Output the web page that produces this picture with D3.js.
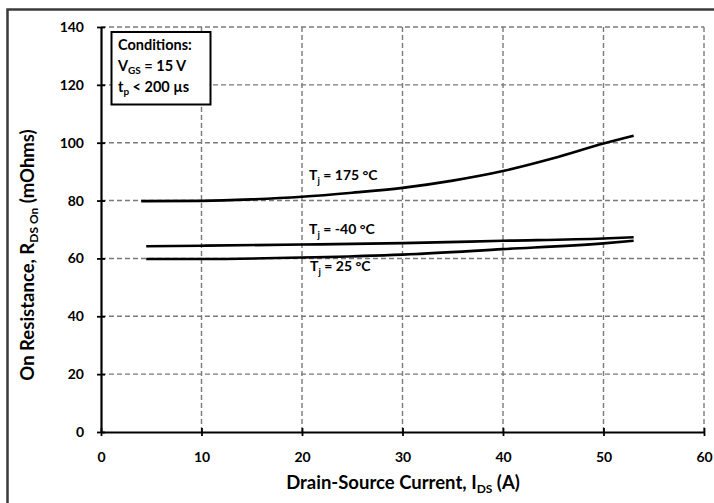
<!DOCTYPE html>
<html>
<head>
<meta charset="utf-8">
<script src="https://cdn.jsdelivr.net/npm/d3@7"></script>
<style>
  body { margin: 0; background: #fff; }
  svg { display: block; font-family: Lato, "Open Sans", sans-serif; font-weight: bold; }
</style>
</head>
<body>
<div id="chart"></div>
<script>
// Data (I_DS in A, R_DS(on) in mOhm)
const xTicks = [0, 10, 20, 30, 40, 50, 60];
const yTicks = [0, 20, 40, 60, 80, 100, 120, 140];

const curve175 = [[4, 79.8], [10, 79.9], [15, 80.4], [20, 81.3], [25, 82.7], [30, 84.4], [35, 86.9], [40, 90.2], [45, 94.6], [50, 99.7], [53, 102.4]];
const curveM40 = [[4.5, 64.2], [10, 64.4], [20, 64.8], [30, 65.3], [40, 66.1], [50, 66.9], [53, 67.3]];
const curve25 = [[4.5, 59.8], [10, 59.8], [20, 60.3], [30, 61.3], [40, 63.2], [50, 65.2], [53, 66.1]];

const curveLabels = [
  { temp: '175 °C', x: 20.7, y: 87.0 },
  { temp: '-40 °C', x: 20.7, y: 68.6 },
  { temp: '25 °C', x: 20.8, y: 55.5 },
];

const W = 714, H = 503;
const margin = { left: 101, right: 11, top: 27, bottom: 71 };

const svg = d3.select('#chart').append('svg')
  .attr('width', W)
  .attr('height', H);

// outer frame
svg.append('rect')
  .attr('x', 7.5).attr('y', 9.5)
  .attr('width', 730).attr('height', 520)
  .attr('fill', 'none')
  .attr('stroke', '#3a3a3a')
  .attr('stroke-width', 2.5);

const x = d3.scaleLinear().domain([0, 60]).range([margin.left, W - margin.right + 1]);
const y = d3.scaleLinear().domain([0, 140]).range([H - margin.bottom, margin.top]);

// Grid
const grid = svg.append('g')
  .attr('stroke', '#7a7a7a')
  .attr('stroke-width', 1.4)
  .attr('stroke-dasharray', '5,3');
grid.selectAll('line.v')
  .data(xTicks.filter(d => d > 0))
  .join('line')
  .attr('x1', d => x(d)).attr('x2', d => x(d))
  .attr('y1', y(0)).attr('y2', y(140));
grid.selectAll('line.h')
  .data(yTicks.filter(d => d > 0))
  .join('line')
  .attr('x1', x(0)).attr('x2', x(60))
  .attr('y1', d => y(d)).attr('y2', d => y(d));

// Axes
const xAxis = d3.axisBottom(x).tickValues(xTicks).tickSizeInner(4).tickSizeOuter(0).tickPadding(16);
const gx = svg.append('g').attr('transform', `translate(0,${y(0)})`).call(xAxis);
gx.select('.domain').attr('stroke', '#000').attr('stroke-width', 2.2);
gx.selectAll('.tick line').attr('stroke', '#000').attr('stroke-width', 1.8).attr('y1', -4);
gx.selectAll('.tick text')
  .attr('font-family', 'Lato, sans-serif').attr('font-weight', 'bold')
  .attr('font-size', 14).attr('fill', '#000');

const yAxis = d3.axisLeft(y).tickValues(yTicks).tickSizeInner(4).tickSizeOuter(0).tickPadding(13);
const gy = svg.append('g').attr('transform', `translate(${x(0)},0)`).call(yAxis);
gy.select('.domain').attr('stroke', '#000').attr('stroke-width', 2.2);
gy.selectAll('.tick line').attr('stroke', '#000').attr('stroke-width', 1.8).attr('x1', 4);
gy.selectAll('.tick text')
  .attr('font-family', 'Lato, sans-serif').attr('font-weight', 'bold')
  .attr('font-size', 14).attr('fill', '#000');

// Curves
const line = d3.line()
  .x(d => x(d[0]))
  .y(d => y(d[1]))
  .curve(d3.curveMonotoneX);

svg.append('g')
  .selectAll('path')
  .data([curve175, curveM40, curve25])
  .join('path')
  .attr('d', line)
  .attr('fill', 'none')
  .attr('stroke', '#000')
  .attr('stroke-width', 2.6);

// Curve labels: T_j = ...
const lbl = svg.append('g')
  .selectAll('text')
  .data(curveLabels)
  .join('text')
  .attr('x', d => x(d.x))
  .attr('y', d => y(d.y))
  .attr('font-size', 14)
  .attr('fill', '#000');
lbl.append('tspan').text('T');
lbl.append('tspan').attr('font-size', 9.5).attr('dy', 4).text('j');
lbl.append('tspan').attr('dy', -4).text(d => ' = ' + d.temp);

// Conditions box
svg.append('rect')
  .attr('x', 111.5).attr('y', 32)
  .attr('width', 99).attr('height', 72.5)
  .attr('fill', '#fff')
  .attr('stroke', '#000')
  .attr('stroke-width', 2);

const cond = svg.append('g').attr('font-size', 14.5).attr('fill', '#000');
cond.append('text').attr('x', 118).attr('y', 50).text('Conditions:');
const vgs = cond.append('text').attr('x', 118).attr('y', 71);
vgs.append('tspan').text('V');
vgs.append('tspan').attr('font-size', 10).attr('dy', 3).text('GS');
vgs.append('tspan').attr('dy', -3).text(' = 15 V');
const tp = cond.append('text').attr('x', 118).attr('y', 92);
tp.append('tspan').text('t');
tp.append('tspan').attr('font-size', 10).attr('dy', 3).text('p');
tp.append('tspan').attr('dy', -3).text(' < 200 µs');

// Axis titles
const xt = svg.append('text')
  .attr('x', 403).attr('y', 489)
  .attr('text-anchor', 'middle')
  .attr('font-size', 18.5)
  .attr('fill', '#000');
xt.append('tspan').text('Drain-Source Current, I');
xt.append('tspan').attr('font-size', 12).attr('dy', 4).text('DS');
xt.append('tspan').attr('dy', -4).text(' (A)');

const yt = svg.append('text')
  .attr('transform', 'translate(34,255) rotate(-90)')
  .attr('text-anchor', 'middle')
  .attr('font-size', 18.5)
  .attr('fill', '#000');
yt.append('tspan').text('On Resistance, R');
yt.append('tspan').attr('font-size', 12).attr('dy', 4).text('DS On');
yt.append('tspan').attr('dy', -4).text(' (mOhms)');
</script>
</body>
</html>
